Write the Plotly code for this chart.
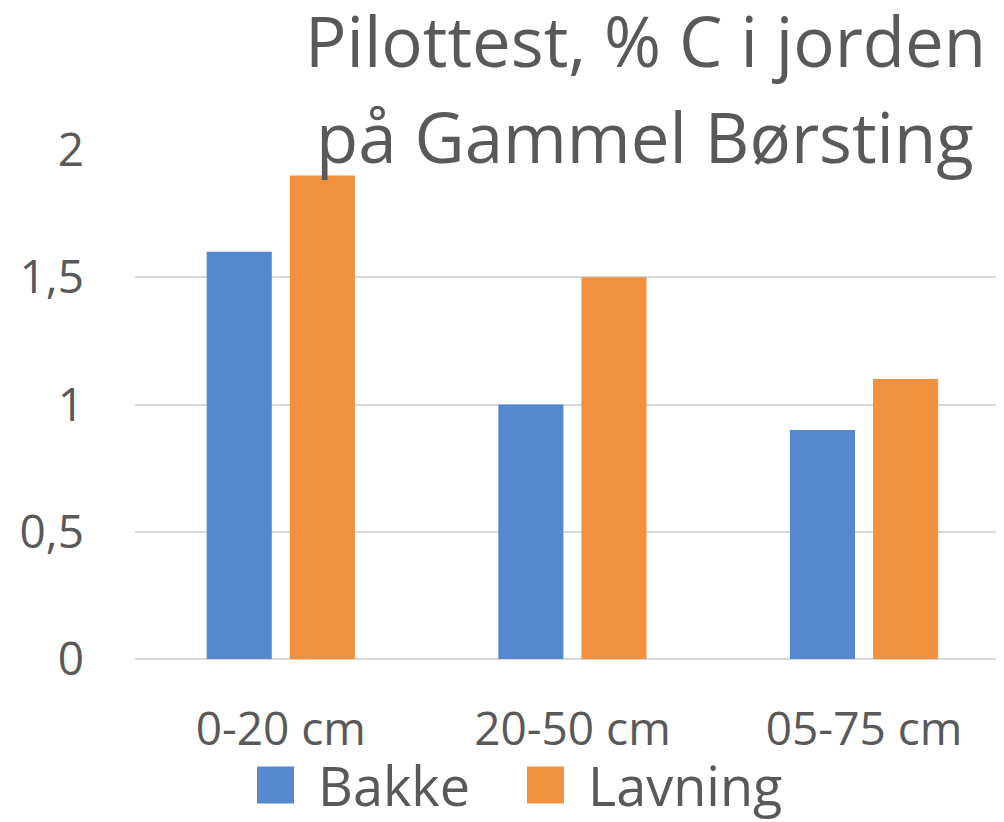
import plotly.graph_objects as go

categories = ["0-20 cm", "20-50 cm", "05-75 cm"]
bakke = [1.6, 1.0, 0.9]
lavning = [1.9, 1.5, 1.1]
series_names = ["Bakke", "Lavning"]
colors = ["#5588CF", "#F2913D"]
y_ticks = [0, 0.5, 1, 1.5, 2]
y_tick_labels = ["0", "0,5", "1", "1,5", "2"]
title_lines = ["Pilottest, % C i jorden", "på Gammel Børsting"]

OFF = 8  # page body margin
W, H = 1004 - OFF, 822 - OFF
L, R, T, B = 135 - OFF, 0, 150 - OFF, H - (659 - OFF)
FONT = "Open Sans"
TXT = "#595959"
pw = W - L - R
ph = H - T - B


def px(xp):  # page x -> paper
    return (xp - OFF - L) / pw


def py(yp):  # page y -> paper
    return 1 - (yp - OFF - T) / ph


fig = go.Figure()
for name, vals, col in zip(series_names, [bakke, lavning], colors):
    fig.add_trace(go.Bar(x=categories, y=vals, name=name, marker_color=col,
                         marker_line_width=0, showlegend=False))

fig.update_layout(
    width=W, height=H,
    margin=dict(l=L, r=R, t=T, b=B, pad=0),
    paper_bgcolor="white", plot_bgcolor="white",
    barmode="group", bargap=0.43, bargroupgap=0.217,
    font=dict(family=FONT, color=TXT),
    showlegend=False,
)
fig.update_xaxes(range=[-0.5, 2.48], showgrid=False, zeroline=False, showline=False,
                 tickfont=dict(size=46, color=TXT, family=FONT), ticks="",
                 ticklabelstandoff=39)
fig.update_yaxes(range=[0, 2.0], tickvals=y_ticks, ticktext=y_tick_labels,
                 showgrid=True, gridcolor="#D9D9D9", gridwidth=2,
                 zeroline=True, zerolinecolor="#D9D9D9", zerolinewidth=2,
                 showline=False, ticks="",
                 tickfont=dict(size=46, color=TXT, family=FONT),
                 ticklabelstandoff=50)

# Title as two centered lines
title_y = [39.5, 136]
for txt, yc in zip(title_lines, title_y):
    fig.add_annotation(text=txt, xref="paper", yref="paper",
                       x=px(645), y=py(yc),
                       xanchor="center", yanchor="middle", showarrow=False,
                       font=dict(size=69, color=TXT, family=FONT))

# Legend drawn manually
leg_items = [(257, 316), (527, 586)]
leg_yc = 785
for (sx, tx), name, col in zip(leg_items, series_names, colors):
    fig.add_shape(type="rect", xref="paper", yref="paper",
                  x0=px(sx), x1=px(sx + 37),
                  y0=py(leg_yc + 18.5), y1=py(leg_yc - 18.5),
                  fillcolor=col, line_width=0)
    fig.add_annotation(text=name, xref="paper", yref="paper",
                       x=px(tx), y=py(leg_yc),
                       xanchor="left", yanchor="middle", showarrow=False,
                       font=dict(size=54, color=TXT, family=FONT))

fig.write_html("out.html")
